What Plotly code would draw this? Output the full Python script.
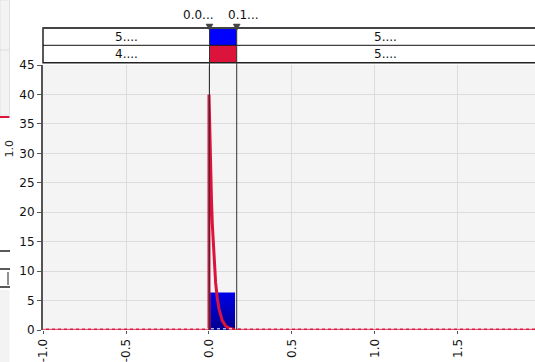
import plotly.graph_objects as go

# ---- data ----
# histogram bins (left edge, right edge, density)
bin_left = [0.0, 0.157]
bin_right = [0.157, 0.314]
bin_density = [6.36, 0.03]

# fitted density curve (x, density)
curve_x = [-1.0, 0.0, 0.0, 0.005, 0.01, 0.015, 0.02, 0.03, 0.04, 0.05, 0.06,
           0.08, 0.10, 0.12, 0.15, 0.20, 0.30, 1.964]
curve_y = [0.0, 0.0, 40.0, 32.7, 26.8, 22.0, 18.0, 12.0, 8.0, 5.4, 3.6,
           1.6, 0.7, 0.33, 0.10, 0.01, 0.0, 0.0]

# delimiter positions and their labels
delims = [0.003, 0.167]
delim_labels = ["0.0...", "0.1..."]

# percentage texts in the band (row 1: histogram, row 2: fit)
row1_texts = ["5....", "5...."]
row2_texts = ["4....", "5...."]

x_ticks = [-1.0, -0.5, 0.0, 0.5, 1.0, 1.5]
x_ticktext = ["-1.0", "-0.5", "0.0", "0.5", "1.0", "1.5"]
x_range = [-1.0, 1.964]
y_range = [0, 45]

BLUE = "#0000ff"
CRIMSON = "#dc143c"
FONT = "DejaVu Sans"

# plot-area geometry in pixels (used to place decorations in paper units)
H, TOP, BOT = 362, 65, 330
PH = BOT - TOP
L = 43
PW = 535 - L


def py(pix):
    return (BOT - pix) / PH


def px(pix):
    return (pix - L) / PW


fig = go.Figure()

# histogram bars as filled polygons with a vertical gradient
for xl, xr, d in zip(bin_left, bin_right, bin_density):
    fig.add_trace(go.Scatter(
        x=[xl, xl, xr, xr, xl], y=[0, d, d, 0, 0],
        mode="lines", line=dict(width=0), fill="toself",
        fillgradient=dict(type="vertical",
                          colorscale=[[0, "#000090"], [1, "#0000e8"]]),
        hoverinfo="skip", showlegend=False))

# fitted curve
fig.add_trace(go.Scatter(x=curve_x, y=curve_y, mode="lines",
                         line=dict(color=CRIMSON, width=3),
                         cliponaxis=False,
                         hoverinfo="skip", showlegend=False))
# white dashes over the baseline part of the curve
fig.add_trace(go.Scatter(x=[x_range[0], x_range[1]], y=[0.2, 0.2], mode="lines",
                         line=dict(color="white", width=1, dash="3px,3px"),
                         hoverinfo="skip", showlegend=False))

shapes = []
annotations = []

band_top, band_mid, band_bot = py(28), py(45.3), py(62.7)

# coloured cells between the delimiters
shapes.append(dict(type="rect", xref="x", yref="paper", x0=delims[0], x1=delims[1],
                   y0=band_mid, y1=band_top, fillcolor=BLUE, line=dict(width=0)))
shapes.append(dict(type="rect", xref="x", yref="paper", x0=delims[0], x1=delims[1],
                   y0=band_bot, y1=band_mid, fillcolor=CRIMSON, line=dict(width=0)))

# band frame
shapes.append(dict(type="rect", xref="paper", yref="paper", x0=0, x1=1.01,
                   y0=band_bot, y1=band_top, line=dict(color="#222", width=1.5),
                   fillcolor="rgba(0,0,0,0)"))
shapes.append(dict(type="line", xref="paper", yref="paper", x0=0, x1=1.01,
                   y0=band_top, y1=band_top, line=dict(color="#444", width=2)))
shapes.append(dict(type="line", xref="paper", yref="paper", x0=0, x1=1,
                   y0=band_mid, y1=band_mid, line=dict(color="#111", width=1)))

# delimiter lines and triangles
dx = 3.5 / 166
for d in delims:
    shapes.append(dict(type="line", xref="x", yref="paper", x0=d, x1=d,
                       y0=0, y1=band_top, line=dict(color="#333", width=1)))
    shapes.append(dict(type="path", xref="x", yref="paper",
                       path=f"M {d - dx},{py(24)} L {d + dx},{py(24)} L {d},{py(30.5)} Z",
                       fillcolor="#444", line=dict(color="#444", width=0.5)))

annotations.append(dict(xref="x", yref="paper", x=delims[0], y=py(15),
                        text=delim_labels[0], showarrow=False, xanchor="right",
                        xshift=7, yanchor="middle", font=dict(family=FONT, size=12, color="#111")))
annotations.append(dict(xref="x", yref="paper", x=delims[1], y=py(15),
                        text=delim_labels[1], showarrow=False, xanchor="left",
                        xshift=-11, yanchor="middle", font=dict(family=FONT, size=12, color="#111")))

# percentage texts centred in the outer segments
seg_centres = [(x_range[0] + delims[0]) / 2, (delims[1] + x_range[1]) / 2]
for cx, t1, t2 in zip(seg_centres, row1_texts, row2_texts):
    annotations.append(dict(xref="x", yref="paper", x=cx, y=(band_mid + band_top) / 2,
                            text=t1, showarrow=False, yanchor="middle",
                            font=dict(family=FONT, size=12, color="#111")))
    annotations.append(dict(xref="x", yref="paper", x=cx, y=(band_bot + band_mid) / 2,
                            text=t2, showarrow=False, yanchor="middle",
                            font=dict(family=FONT, size=12, color="#111")))

# edge of the neighbouring panel at the far left
shapes.append(dict(type="rect", xref="paper", yref="paper", x0=px(0), x1=px(9.5),
                   y0=py(115), y1=py(0), fillcolor="#f3f3f3",
                   line=dict(color="#e2e2e2", width=1), layer="below"))
shapes.append(dict(type="line", xref="paper", yref="paper", x0=px(0), x1=px(9.5),
                   y0=py(50), y1=py(50), line=dict(color="#dddddd", width=1)))
shapes.append(dict(type="line", xref="paper", yref="paper", x0=px(0), x1=px(9.5),
                   y0=py(117), y1=py(117), line=dict(color=CRIMSON, width=2)))
for yy in (251, 269, 287):
    shapes.append(dict(type="line", xref="paper", yref="paper", x0=px(0), x1=px(10),
                       y0=py(yy), y1=py(yy), line=dict(color="#222", width=1.5)))
shapes.append(dict(type="line", xref="paper", yref="paper", x0=px(8), x1=px(8),
                   y0=py(285), y1=py(272), line=dict(color="#222", width=1)))
shapes.append(dict(type="rect", xref="paper", yref="paper", x0=px(0), x1=px(9.5),
                   y0=py(362), y1=py(290), fillcolor="#f3f3f3",
                   line=dict(width=0), layer="below"))
annotations.append(dict(xref="paper", yref="paper", x=px(0), y=py(138),
                        text="1.0", textangle=-90, showarrow=False, xanchor="left",
                        font=dict(family=FONT, size=11, color="#222")))

fig.update_layout(
    width=535, height=H,
    margin=dict(l=L, r=0, t=TOP, b=H - BOT, pad=0),
    paper_bgcolor="white", plot_bgcolor="#f4f4f4",
    shapes=shapes, annotations=annotations,
    showlegend=False,
    font=dict(family=FONT, size=12, color="#111"),
    xaxis=dict(range=x_range, tickvals=x_ticks, ticktext=x_ticktext,
               tickangle=-90, ticks="outside", ticklen=3, tickcolor="#555",
               showgrid=True, gridcolor="#dcdcdc", gridwidth=1,
               zeroline=False, showline=False, automargin=False,
               tickfont=dict(family=FONT, size=12, color="#111")),
    yaxis=dict(range=y_range, dtick=5, ticks="outside", ticklen=4, tickcolor="#555",
               showgrid=True, gridcolor="#dcdcdc", gridwidth=1,
               zeroline=False, showline=True, linecolor="#555", linewidth=2,
               automargin=False,
               tickfont=dict(family=FONT, size=12, color="#111")),
)

fig.write_html("out.html")
